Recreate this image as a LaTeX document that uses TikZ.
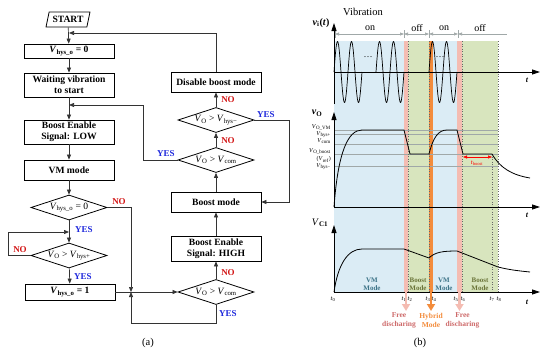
\documentclass[tikz,border=0pt]{standalone}
\usepackage{fontspec}
\setmainfont{Liberation Serif}
\usetikzlibrary{shapes.geometric, arrows.meta}
\definecolor{nored}{RGB}{210,20,20}
\definecolor{yesblue}{RGB}{30,40,220}
\definecolor{vmblue}{RGB}{219,236,245}
\definecolor{bstgreen}{RGB}{216,229,190}
\definecolor{fdpink}{RGB}{244,188,178}
\definecolor{hyorange}{RGB}{243,140,60}
\definecolor{lvlgrey}{RGB}{160,168,168}
\definecolor{vmtext}{RGB}{60,115,135}
\definecolor{bsttext}{RGB}{105,115,55}
\definecolor{fdtext}{RGB}{205,105,105}
\newcommand{\vsub}[2]{\textit{#1}\textsubscript{#2}}

\begin{document}
\begin{tikzpicture}[x=1pt, y=-1pt]
  \tikzset{
    flow_box/.style={draw, line width=0.8pt, fill=white, minimum width=90pt, inner sep=1pt, align=center, font=\bfseries\fontsize{9.6}{11}\selectfont},
    flow_dia/.style={diamond, aspect=3, draw, line width=0.8pt, minimum width=76pt, minimum height=25pt, inner sep=0pt, font=\fontsize{9.6}{11}\selectfont},
    start_node/.style={trapezium, trapezium left angle=72, trapezium right angle=108, trapezium stretches=true, draw, line width=0.8pt, minimum width=44pt, minimum height=15pt, inner sep=1pt, font=\bfseries\fontsize{9.6}{11}\selectfont},
    flow_arrow/.style={-{Triangle[length=5pt,width=4pt]}, line width=0.7pt, draw=black!80},
    no_lbl/.style={text=nored, font=\bfseries\fontsize{9}{10}\selectfont, inner sep=0pt},
    yes_lbl/.style={text=yesblue, font=\bfseries\fontsize{9}{10}\selectfont, inner sep=0pt},
    axis_arrow/.style={-{Triangle[length=8pt,width=5pt]}, line width=0.8pt},
    dim_arrow/.style={lvlgrey, line width=0.6pt, {Triangle[length=4pt,width=3pt]}-{Triangle[length=4pt,width=3pt]}},
    lvl_lbl/.style={anchor=east, inner sep=0pt, font=\fontsize{6}{6}\selectfont},
    time_lbl/.style={inner sep=0pt, font=\fontsize{6.5}{7}\selectfont},
    mode_lbl/.style={align=center, inner sep=0pt, font=\bfseries\fontsize{7}{8.5}\selectfont},
    fd_lbl/.style={align=center, inner sep=0pt, font=\bfseries\fontsize{7.5}{9}\selectfont}
  }
  \useasboundingbox (0,0) rectangle (550,351);

  % Diagrama de flujo, columna izquierda
  \node[start_node] (start) at (68,19.5) {START};
  \node[flow_box, minimum height=14pt] (hys_zero) at (69,51) {\vsub{V}{hys\_o} = 0};
  \node[flow_box, minimum height=24pt] (waiting) at (69,85) {Waiting vibration\\to start};
  \node[flow_box, minimum height=24pt] (enable_low) at (69,132) {Boost Enable\\Signal: LOW};
  \node[flow_box, minimum height=20pt] (vm_mode) at (69,170) {VM mode};
  \node[flow_dia] (dia_hys) at (69,207.5) {\vsub{V}{hys\_o} = 0};
  \node[flow_dia] (dia_plus) at (69,255.5) {\vsub{V}{O} > \vsub{V}{hys+}};
  \node[flow_box, minimum height=16pt] (hys_one) at (70,292) {\vsub{V}{hys\_o} = 1};

  % Diagrama de flujo, columna derecha
  \node[flow_dia] (dia_com_low) at (216,292) {\vsub{V}{O} > \vsub{V}{com}};
  \node[flow_box, minimum height=25pt] (enable_high) at (216,248.5) {Boost Enable\\Signal: HIGH};
  \node[flow_box, minimum height=20pt] (boost_mode) at (216,202) {Boost mode};
  \node[flow_dia] (dia_com_up) at (216,160) {\vsub{V}{O} > \vsub{V}{com}};
  \node[flow_dia] (dia_minus) at (216,120) {\vsub{V}{O} > \vsub{V}{hys−}};
  \node[flow_box, minimum height=20pt] (disable) at (216,82) {Disable boost mode};

  % Puntos de union
  \coordinate (join_top) at (69,33);
  \coordinate (join_wait) at (69,105);
  \coordinate (corner_wait) at (143,105);
  \coordinate (join_loop) at (69,232);
  \coordinate (corner_loop) at (8,232);
  \coordinate (join_low) at (131,292);
  \coordinate (corner_low) at (131,323);
  \coordinate (corner_yes) at (289,202);

  % Flechas
  \draw[flow_arrow] (start) -- (hys_zero);
  \draw[flow_arrow] (hys_zero) -- (waiting);
  \draw[flow_arrow] (waiting) -- (enable_low);
  \draw[flow_arrow] (enable_low) -- (vm_mode);
  \draw[flow_arrow] (vm_mode) -- (dia_hys);
  \draw[flow_arrow] (dia_hys) -- (dia_plus);
  \draw[flow_arrow] (dia_plus) -- (hys_one);
  \draw[flow_arrow] (dia_plus.west) -| (corner_loop) -- (join_loop);
  \draw[flow_arrow] (hys_one.east) -- (dia_com_low.west);
  \draw[flow_arrow] (dia_hys.east) -| (join_low);
  \draw[flow_arrow] (dia_com_low.south) |- (corner_low) -- (join_low);
  \draw[flow_arrow] (dia_com_low) -- (enable_high);
  \draw[flow_arrow] (enable_high) -- (boost_mode);
  \draw[flow_arrow] (boost_mode) -- (dia_com_up);
  \draw[flow_arrow] (dia_com_up) -- (dia_minus);
  \draw[flow_arrow] (dia_minus) -- (disable);
  \draw[flow_arrow] (dia_minus.east) -| (corner_yes) -- (boost_mode.east);
  \draw[flow_arrow] (dia_com_up.west) -| (corner_wait) -- (join_wait);
  \draw[flow_arrow] (disable.north) |- (join_top);

  % Etiquetas YES / NO
  \node[no_lbl] (no_hys) at (119,202) {NO};
  \node[yes_lbl] (yes_hys) at (84,230) {YES};
  \node[no_lbl] (no_plus) at (20,250) {NO};
  \node[yes_lbl] (yes_plus) at (83,277) {YES};
  \node[no_lbl] (no_com_low) at (228,273) {NO};
  \node[yes_lbl] (yes_com_low) at (228,314) {YES};
  \node[no_lbl] (no_com_up) at (228,141) {NO};
  \node[yes_lbl] (yes_com_up) at (166,154) {YES};
  \node[no_lbl] (no_minus) at (228,100) {NO};
  \node[yes_lbl] (yes_minus) at (266,115) {YES};
  \node[font=\fontsize{10.5}{12}\selectfont] (cap_a) at (148,343) {(a)};

  % Formas de onda: zonas de fondo
  \fill[vmblue] (334,41) rectangle (404,292);
  \fill[fdpink] (404,41) rectangle (408,292);
  \fill[bstgreen] (408,41) rectangle (429,292);
  \fill[hyorange] (429,41) rectangle (433,292);
  \fill[vmblue] (433,41) rectangle (457,292);
  \fill[fdpink] (457,41) rectangle (462,292);
  \fill[bstgreen] (462,41) rectangle (498,292);

  % Niveles de tension y lineas de tiempo
  \foreach \lv in {130,134,144,154,166}
    \draw[lvlgrey, line width=0.4pt] (334,\lv) -- (498,\lv);
  \foreach \xd in {408,429,462,498}
    \draw[black!60, dotted, line width=0.5pt] (\xd,41) -- (\xd,292);
  \draw[black!60, dotted, line width=0.5pt] (492,154) -- (492,292);

  % Vibracion on / off
  \foreach \xt in {335,404,429,458}
    \draw[lvlgrey, line width=0.6pt] (\xt,30) -- (\xt,38);
  \draw[dim_arrow] (335,34) -- (404,34);
  \draw[dim_arrow] (404,34) -- (429,34);
  \draw[dim_arrow] (429,34) -- (458,34);
  \draw[lvlgrey, line width=0.6pt, {Triangle[length=4pt,width=3pt]}-] (458,34) -- (507,34);
  \node[font=\fontsize{10}{11}\selectfont] (lbl_on_a) at (370,28) {on};
  \node[font=\fontsize{10}{11}\selectfont] (lbl_off_a) at (417,28) {off};
  \node[font=\fontsize{10}{11}\selectfont] (lbl_on_b) at (444,28) {on};
  \node[font=\fontsize{10}{11}\selectfont] (lbl_off_b) at (480,28) {off};
  \node[font=\fontsize{10.5}{12}\selectfont] (lbl_vib) at (363,12) {Vibration};

  % Tension de entrada
  \draw[line width=0.7pt] plot[domain=334:362, samples=80] (\x,{72-30.5*sin(360*(\x-334)/14)});
  \draw[line width=0.7pt] plot[domain=376:404, samples=80] (\x,{72-30.5*sin(360*(\x-376)/14)});
  \draw[line width=0.7pt] plot[domain=429:457, samples=80] (\x,{72-30.5*sin(360*(\x-429)/14)});
  \node[font=\fontsize{9}{10}\selectfont] (dots_a) at (368,57) {\dots};
  \node[font=\fontsize{9}{10}\selectfont] (dots_b) at (440,57) {\dots};

  % Tension de salida
  \draw[line width=0.8pt] (334,207) .. controls (338,152) and (348,130) .. (362,130)
    -- (404,130) -- (410,154) -- (429,154) .. controls (433,138) and (438,130) .. (447,130)
    -- (457,130) -- (463,154) -- (492,154) .. controls (500,168) and (512,175) .. (530,178);
  \draw[red, line width=0.5pt, {Triangle[length=4pt,width=3pt]}-{Triangle[length=4pt,width=3pt]}] (463,157) -- (492,157);
  \node[text=red, inner sep=0pt, font=\fontsize{6.5}{7}\selectfont] (lbl_tboost) at (477,163) {\textit{t}\textsubscript{boost}};

  % Tension del condensador
  \draw[line width=0.8pt] (334,292) .. controls (338,264) and (348,249) .. (362,249)
    -- (404,249) -- (429,258) .. controls (435,252) and (443,251) .. (457,251)
    -- (498,267) .. controls (510,270) and (520,271) .. (530,272);

  % Ejes
  \draw[axis_arrow] (334,104) -- (334,23);
  \draw[axis_arrow] (334,72) -- (540,72);
  \draw[axis_arrow] (334,207) -- (334,112);
  \draw[axis_arrow] (334,207) -- (540,207);
  \draw[axis_arrow] (334,292) -- (334,225);
  \draw[axis_arrow] (334,292) -- (540,292);
  \node[font=\bfseries\fontsize{8}{9}\selectfont] (t_top) at (527,80) {\textit{t}};
  \node[font=\bfseries\fontsize{8}{9}\selectfont] (t_mid) at (527,215) {\textit{t}};
  \node[font=\bfseries\fontsize{8}{9}\selectfont] (t_bot) at (527,302) {\textit{t}};
  \node[font=\bfseries\fontsize{10}{11}\selectfont] (lbl_vi) at (321,23) {\textit{v}\textsubscript{i}(\textit{t})};
  \node[font=\bfseries\fontsize{10}{11}\selectfont] (lbl_vo) at (317,113) {\textit{v}\textsubscript{O}};
  \node[font=\fontsize{10}{11}\selectfont] (lbl_vc) at (320,223) {\vsub{V}{\textbf{C1}}};

  % Etiquetas de niveles
  \node[lvl_lbl] (lbl_vovm) at (331,127.2) {\vsub{V}{O\_VM}};
  \node[lvl_lbl] (lbl_hysp) at (331,134.3) {\vsub{V}{hys+}};
  \node[lvl_lbl] (lbl_com) at (331,141.3) {\vsub{V}{com}};
  \node[lvl_lbl] (lbl_boost) at (331,151.3) {\vsub{V}{O\_boost}};
  \node[lvl_lbl] (lbl_ref) at (331,159.3) {(\vsub{V}{ref})};
  \node[lvl_lbl] (lbl_hysm) at (331,166.8) {\vsub{V}{hys−}};

  % Instantes de tiempo
  \foreach \xt/\n in {333/0,404/1,410/2,428/3,434/4,456/5,463/6,492/7,499/8}
    \node[time_lbl] (lbl_t\n) at (\xt,299) {\textit{t}\textsubscript{\n}};

  % Modos
  \node[mode_lbl, text=vmtext] (mode_vm_a) at (372,284) {VM\\Mode};
  \node[mode_lbl, text=bsttext] (mode_bst_a) at (418,284) {Boost\\Mode};
  \node[mode_lbl, text=vmtext] (mode_vm_b) at (444,284) {VM\\Mode};
  \node[mode_lbl, text=bsttext] (mode_bst_b) at (480,284) {Boost\\Mode};

  % Flechas de transicion
  \draw[fdpink, line width=2.5pt, -{Triangle[length=7pt,width=8pt]}] (406,292) -- (406,311);
  \draw[hyorange, line width=2.5pt, -{Triangle[length=7pt,width=8pt]}] (431,292) -- (431,311);
  \draw[fdpink, line width=2.5pt, -{Triangle[length=7pt,width=8pt]}] (459.5,292) -- (459.5,311);
  \node[fd_lbl, text=fdtext] (free_a) at (399,320.5) {Free\\discharing};
  \node[fd_lbl, text=hyorange] (hybrid) at (431,320.5) {Hybrid\\Mode};
  \node[fd_lbl, text=fdtext] (free_b) at (462.5,320.5) {Free\\discharing};
  \node[font=\fontsize{10.5}{12}\selectfont] (cap_b) at (420,343) {(b)};
\end{tikzpicture}
\end{document}
